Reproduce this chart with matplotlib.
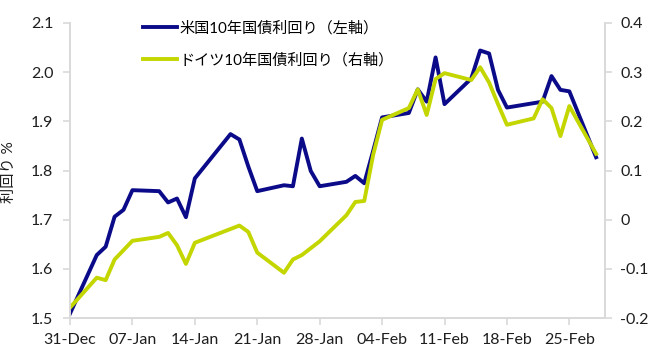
import matplotlib
matplotlib.use("Agg")
import matplotlib.pyplot as plt
import matplotlib.dates as mdates
import pandas as pd

plt.rcParams['font.family'] = ['Lato', 'Noto Sans CJK JP', 'DejaVu Sans']

# US 10y yield (left axis), US trading days
us_dates = pd.to_datetime([
    '2021-12-31', '2022-01-03', '2022-01-04', '2022-01-05', '2022-01-06', '2022-01-07',
    '2022-01-10', '2022-01-11', '2022-01-12', '2022-01-13', '2022-01-14',
    '2022-01-18', '2022-01-19', '2022-01-20', '2022-01-21',
    '2022-01-24', '2022-01-25', '2022-01-26', '2022-01-27', '2022-01-28',
    '2022-01-31', '2022-02-01', '2022-02-02', '2022-02-03', '2022-02-04',
    '2022-02-07', '2022-02-08', '2022-02-09', '2022-02-10', '2022-02-11',
    '2022-02-14', '2022-02-15', '2022-02-16', '2022-02-17', '2022-02-18',
    '2022-02-22', '2022-02-23', '2022-02-24', '2022-02-25', '2022-02-28'])
us_yield = [
    1.509, 1.628, 1.645, 1.706, 1.720, 1.760,
    1.758, 1.735, 1.743, 1.705, 1.784,
    1.874, 1.863, 1.808, 1.758,
    1.770, 1.768, 1.865, 1.799, 1.768,
    1.777, 1.789, 1.774, 1.840, 1.908,
    1.917, 1.965, 1.940, 2.030, 1.935,
    1.987, 2.044, 2.038, 1.964, 1.928,
    1.940, 1.992, 1.964, 1.961, 1.827]

# German 10y yield (right axis)
de_dates = pd.to_datetime([
    '2021-12-31', '2022-01-03', '2022-01-04', '2022-01-05', '2022-01-06', '2022-01-07',
    '2022-01-10', '2022-01-11', '2022-01-12', '2022-01-13', '2022-01-14',
    '2022-01-17', '2022-01-18', '2022-01-19', '2022-01-20', '2022-01-21',
    '2022-01-24', '2022-01-25', '2022-01-26', '2022-01-27', '2022-01-28',
    '2022-01-31', '2022-02-01', '2022-02-02', '2022-02-03', '2022-02-04',
    '2022-02-07', '2022-02-08', '2022-02-09', '2022-02-10', '2022-02-11',
    '2022-02-14', '2022-02-15', '2022-02-16', '2022-02-17', '2022-02-18',
    '2022-02-21', '2022-02-22', '2022-02-23', '2022-02-24', '2022-02-25', '2022-02-28'])
de_yield = [
    -0.179, -0.118, -0.123, -0.081, -0.062, -0.043,
    -0.035, -0.027, -0.052, -0.090, -0.047,
    -0.026, -0.019, -0.012, -0.025, -0.067,
    -0.108, -0.081, -0.072, -0.058, -0.044,
    0.009, 0.036, 0.038, 0.132, 0.203,
    0.227, 0.265, 0.213, 0.286, 0.298,
    0.284, 0.310, 0.279, 0.235, 0.193,
    0.206, 0.245, 0.227, 0.170, 0.231, 0.134]

tick_dates = pd.date_range('2021-12-31', periods=9, freq='7D')
left_ticks = [1.5, 1.6, 1.7, 1.8, 1.9, 2.0, 2.1]
right_ticks = [-0.2, -0.1, 0, 0.1, 0.2, 0.3, 0.4]
right_labels = ['-0.2', '-0.1', '0', '0.1', '0.2', '0.3', '0.4']

us_label = '米国10年国債利回り（左軸）'
de_label = 'ドイツ10年国債利回り（右軸）'

grey = '#d9d9d9'
txt = '#1e1e1e'

fig = plt.figure(figsize=(6.55, 3.63), dpi=100)
ax = fig.add_axes([70/655, 1 - 318/363, 535/655, 295/363])
ax2 = ax.twinx()

l1, = ax.plot(us_dates, us_yield, color='#0b0b8a', lw=2.8, solid_joinstyle='round')
l2, = ax2.plot(de_dates, de_yield, color='#c4d600', lw=2.8, solid_joinstyle='round')

ax.set_xlim(pd.Timestamp('2021-12-31'), pd.Timestamp('2022-03-01'))
ax.set_ylim(1.5, 2.1)
ax2.set_ylim(-0.2, 0.4)

ax.set_xticks(tick_dates)
ax.xaxis.set_major_formatter(mdates.DateFormatter('%d-%b'))
ax.set_yticks(left_ticks)
ax.set_yticklabels(['%.1f' % v for v in left_ticks])
ax2.set_yticks(right_ticks)
ax2.set_yticklabels(right_labels)

for a in (ax, ax2):
    a.spines['top'].set_visible(False)
    for s in ('left', 'right', 'bottom'):
        a.spines[s].set_color(grey)
        a.spines[s].set_linewidth(1.2)
    a.tick_params(colors=grey, labelcolor=txt, labelsize=11.5, length=5, width=1.2)
ax.tick_params(axis='y', pad=7)
ax2.tick_params(axis='y', pad=6)
ax.tick_params(axis='x', pad=6)

ax.set_ylabel('利回り %', fontsize=11, color=txt)
ax.yaxis.set_label_coords(-0.101, 0.495)

ax2.legend([l1, l2], [us_label, de_label], loc='upper left',
           bbox_to_anchor=(143/655, 1 - 21/363), bbox_transform=fig.transFigure,
           frameon=False, fontsize=10.9, handlelength=2.25, handletextpad=0.15,
           labelspacing=1.15, borderaxespad=0, borderpad=0)

fig.savefig('out.png', dpi=100)
